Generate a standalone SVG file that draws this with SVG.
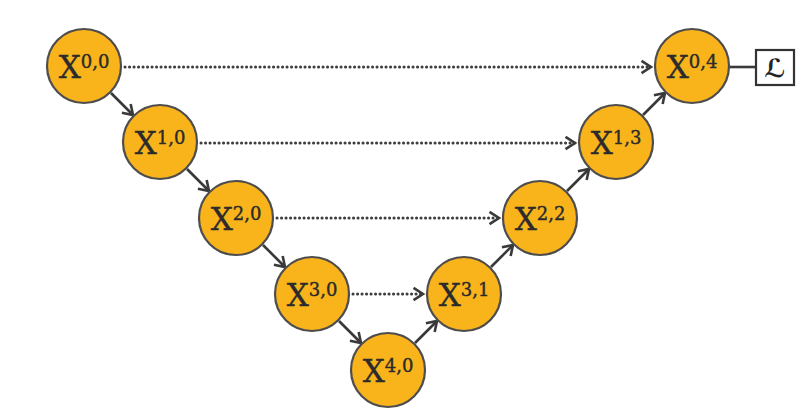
<svg xmlns="http://www.w3.org/2000/svg" width="800" height="417" viewBox="0 0 800 417">
<style>
.node circle{fill:#F9B41C;stroke:#4d4d4d;stroke-width:2.2}
.node text{font-family:"DejaVu Serif","Liberation Serif",serif;fill:#2b2b2b;text-anchor:middle;stroke:#2b2b2b;stroke-width:0.4}
.x{font-size:31px}
.sup{font-size:18px}
.solid{stroke:#3a3a3a;stroke-width:2.6;fill:none}
.dot{stroke:#3e3e3e;stroke-width:3;fill:none;stroke-dasharray:0.1 4.4;stroke-linecap:round}
</style>
<defs>
<marker id="arr" markerUnits="userSpaceOnUse" markerWidth="16" markerHeight="16" refX="11" refY="7" orient="auto" overflow="visible">
<path d="M1.5,0.8 L11,7 L1.5,13.2" fill="none" stroke="#3a3a3a" stroke-width="2.6" stroke-linejoin="miter"/>
</marker>
</defs>
<rect width="800" height="417" fill="#fff"/>
<g id="connectors">
<line class="dot" x1="125" y1="67" x2="651" y2="67" marker-end="url(#arr)"/>
<line class="dot" x1="201" y1="143" x2="575" y2="143" marker-end="url(#arr)"/>
<line class="dot" x1="277" y1="218" x2="499" y2="218" marker-end="url(#arr)"/>
<line class="dot" x1="353" y1="294" x2="423" y2="294" marker-end="url(#arr)"/>
<line class="solid" x1="111" y1="93" x2="133" y2="115" marker-end="url(#arr)"/>
<line class="solid" x1="187" y1="169" x2="209" y2="191" marker-end="url(#arr)"/>
<line class="solid" x1="263" y1="245" x2="285" y2="267" marker-end="url(#arr)"/>
<line class="solid" x1="339" y1="321" x2="361" y2="343" marker-end="url(#arr)"/>
<line class="solid" x1="415" y1="343" x2="437" y2="321" marker-end="url(#arr)"/>
<line class="solid" x1="491" y1="267" x2="513" y2="245" marker-end="url(#arr)"/>
<line class="solid" x1="567" y1="191" x2="589" y2="169" marker-end="url(#arr)"/>
<line class="solid" x1="643" y1="115" x2="665" y2="93" marker-end="url(#arr)"/>
<line class="solid" x1="729" y1="67" x2="756" y2="67"/>
</g>
<g id="n00" class="node"><circle cx="84" cy="66" r="37"/><text x="84" y="78"><tspan class="x">X</tspan><tspan class="sup" dy="-10">0,0</tspan></text></g>
<g id="n10" class="node"><circle cx="160" cy="142" r="37"/><text x="160" y="154"><tspan class="x">X</tspan><tspan class="sup" dy="-10">1,0</tspan></text></g>
<g id="n20" class="node"><circle cx="236" cy="218" r="37"/><text x="236" y="230"><tspan class="x">X</tspan><tspan class="sup" dy="-10">2,0</tspan></text></g>
<g id="n30" class="node"><circle cx="312" cy="294" r="37"/><text x="312" y="306"><tspan class="x">X</tspan><tspan class="sup" dy="-10">3,0</tspan></text></g>
<g id="n40" class="node"><circle cx="388" cy="370" r="37"/><text x="388" y="382"><tspan class="x">X</tspan><tspan class="sup" dy="-10">4,0</tspan></text></g>
<g id="n31" class="node"><circle cx="464" cy="294" r="37"/><text x="464" y="306"><tspan class="x">X</tspan><tspan class="sup" dy="-10">3,1</tspan></text></g>
<g id="n22" class="node"><circle cx="540" cy="218" r="37"/><text x="540" y="230"><tspan class="x">X</tspan><tspan class="sup" dy="-10">2,2</tspan></text></g>
<g id="n13" class="node"><circle cx="616" cy="142" r="37"/><text x="616" y="154"><tspan class="x">X</tspan><tspan class="sup" dy="-10">1,3</tspan></text></g>
<g id="n04" class="node"><circle cx="692" cy="66" r="37"/><text x="692" y="78"><tspan class="x">X</tspan><tspan class="sup" dy="-10">0,4</tspan></text></g>
<g id="loss"><rect x="756" y="50" width="38" height="35" fill="#fff" stroke="#333" stroke-width="2.2"/><text x="775" y="77" font-family="DejaVu Sans,sans-serif" font-size="25" font-weight="bold" font-style="italic" text-anchor="middle" fill="#222">ℒ</text></g>
</svg>
